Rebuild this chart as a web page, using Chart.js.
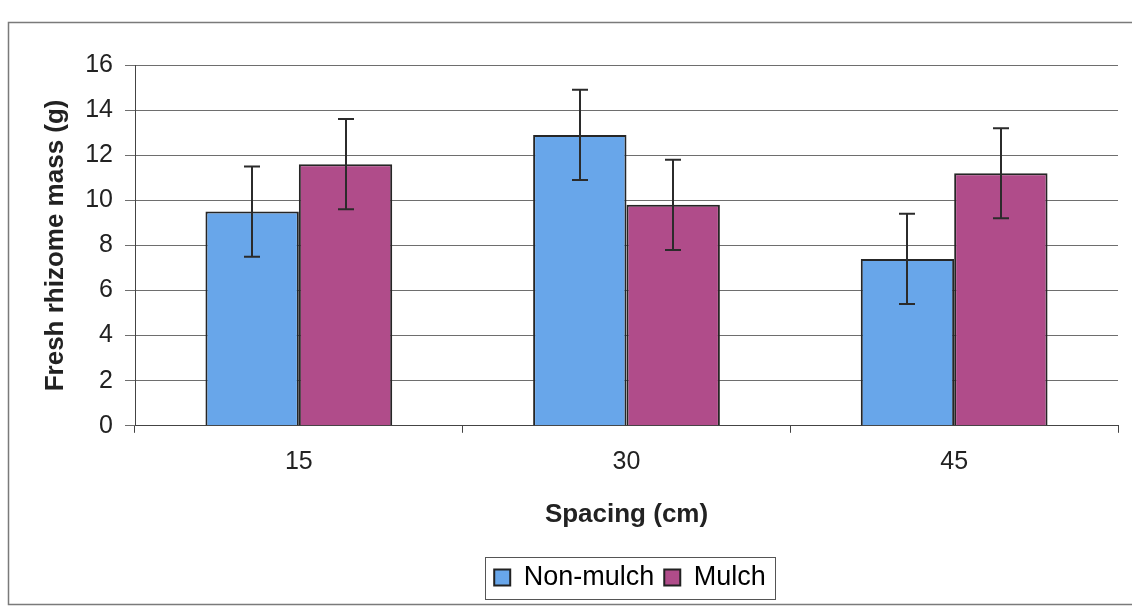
<!DOCTYPE html>
<html>
<head>
<meta charset="utf-8">
<script src="https://cdn.jsdelivr.net/npm/chart.js@4"></script>
<style>
  html, body { margin: 0; padding: 0; background: #ffffff; }
  #wrap { width: 1132px; height: 607px; position: relative; }
</style>
</head>
<body>
<div id="wrap"><canvas id="c" width="1132" height="607"></canvas></div>
<script>
const categories = ["15", "30", "45"];
const seriesNames = ["Non-mulch", "Mulch"];
const nonMulch = [9.5, 12.9, 7.4];
const mulch = [11.6, 9.8, 11.2];
const nonMulchErr = [2.0, 2.0, 2.0];
const mulchErr = [2.0, 2.0, 2.0];
const yTicks = [0, 2, 4, 6, 8, 10, 12, 14, 16];

const FONT = "'Liberation Sans', Arial, sans-serif";
const LEGEND_CENTER_X = 630;

const framePlugin = {
  id: 'frame',
  beforeDraw(chart) {
    const ctx = chart.ctx;
    ctx.save();
    ctx.fillStyle = '#ffffff';
    ctx.fillRect(0, 0, chart.width, chart.height);
    ctx.strokeStyle = '#7a7a7a';
    ctx.lineWidth = 1.5;
    ctx.beginPath();
    ctx.moveTo(1132, 22.5);
    ctx.lineTo(8.5, 22.5);
    ctx.lineTo(8.5, 604.5);
    ctx.lineTo(1132, 604.5);
    ctx.stroke();
    ctx.restore();
  },
  afterLayout(chart) {
    const lg = chart.legend;
    if (!lg) return;
    const shift = LEGEND_CENTER_X - (lg.left + lg.right) / 2;
    lg.left += shift;
    lg.right += shift;
  },
  afterDraw(chart) {
    const lg = chart.legend;
    if (!lg || !lg.lineWidths || !lg.lineWidths.length) return;
    const w = lg.lineWidths[0];
    const cx = (lg.left + lg.right) / 2;
    const cy = lg.top + lg.height / 2;
    const ctx = chart.ctx;
    ctx.save();
    ctx.strokeStyle = '#555555';
    ctx.lineWidth = 1;
    const x0 = Math.round(cx - w / 2 - 4) + 0.5;
    const x1 = Math.round(cx + w / 2 + 4) + 0.5;
    ctx.strokeRect(x0, Math.round(cy - 21) + 0.5, x1 - x0, 42);
    ctx.restore();
  }
};

const errorBarPlugin = {
  id: 'errorBars',
  afterDatasetsDraw(chart) {
    const ctx = chart.ctx;
    const yScale = chart.scales.y;
    const errs = [nonMulchErr, mulchErr];
    ctx.save();
    ctx.strokeStyle = '#2b2b2b';
    ctx.lineWidth = 2;
    chart.data.datasets.forEach((ds, di) => {
      const meta = chart.getDatasetMeta(di);
      meta.data.forEach((bar, i) => {
        const v = ds.data[i];
        const e = errs[di][i];
        const x = Math.round(bar.x);
        const yTop = yScale.getPixelForValue(v + e);
        const yBot = yScale.getPixelForValue(v - e);
        const cap = 8;
        ctx.beginPath();
        ctx.moveTo(x, yTop); ctx.lineTo(x, yBot);
        ctx.moveTo(x - cap, yTop); ctx.lineTo(x + cap, yTop);
        ctx.moveTo(x - cap, yBot); ctx.lineTo(x + cap, yBot);
        ctx.stroke();
      });
    });
    ctx.restore();
  }
};

new Chart(document.getElementById('c'), {
  type: 'bar',
  data: {
    labels: categories,
    datasets: [
      {
        label: seriesNames[0],
        data: nonMulch,
        backgroundColor: '#68a6ea',
        borderColor: '#262626',
        borderWidth: 2,
        categoryPercentage: 0.57,
        barPercentage: 1.0
      },
      {
        label: seriesNames[1],
        data: mulch,
        backgroundColor: '#b04c8a',
        borderColor: '#262626',
        borderWidth: 2,
        categoryPercentage: 0.57,
        barPercentage: 1.0
      }
    ]
  },
  options: {
    responsive: false,
    animation: false,
    devicePixelRatio: 1,
    layout: { padding: { top: 65, right: 14, bottom: 6, left: 10 } },
    plugins: {
      legend: {
        position: 'bottom',
        labels: {
          font: { family: FONT, size: 27 },
          color: '#222',
          boxWidth: 16,
          boxHeight: 16,
          padding: 10,
          generateLabels(chart) {
            return chart.data.datasets.map((ds, i) => ({
              text: ds.label,
              fillStyle: ds.backgroundColor,
              strokeStyle: '#222',
              lineWidth: 2,
              datasetIndex: i,
              hidden: false
            }));
          }
        }
      },
      tooltip: { enabled: false }
    },
    scales: {
      x: {
        grid: {
          display: true,
          drawOnChartArea: false,
          drawTicks: true,
          tickLength: 7,
          color: '#444',
          offset: true
        },
        border: { display: true, color: '#444', width: 1 },
        ticks: {
          font: { family: FONT, size: 25 },
          color: '#222',
          padding: 14
        },
        title: {
          display: true,
          text: 'Spacing (cm)',
          font: { family: FONT, size: 26, weight: 'bold' },
          color: '#222',
          padding: { top: 8, bottom: 24 }
        }
      },
      y: {
        min: 0,
        max: 16,
        afterBuildTicks(scale) {
          scale.ticks = yTicks.map(v => ({ value: v }));
        },
        afterFit(scale) { scale.width = 125; },
        grid: {
          color: '#6e6e6e',
          lineWidth: 1,
          drawTicks: true,
          tickLength: 10
        },
        border: { display: true, color: '#444', width: 1 },
        ticks: {
          font: { family: FONT, size: 25 },
          color: '#222',
          padding: 12
        },
        title: {
          display: true,
          text: 'Fresh rhizome mass (g)',
          font: { family: FONT, size: 26, weight: 'bold' },
          color: '#222',
          padding: { top: 30, bottom: 0 }
        }
      }
    }
  },
  plugins: [framePlugin, errorBarPlugin]
});
</script>
</body>
</html>
